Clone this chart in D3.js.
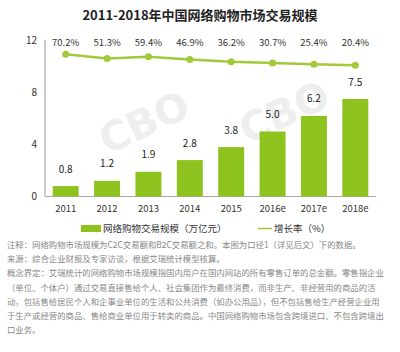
<!DOCTYPE html>
<html><head><meta charset="utf-8">
<script src="https://cdn.jsdelivr.net/npm/d3@7"></script>
<style>body{margin:0;background:#fff}svg{display:block}</style>
</head><body>
<svg id="c" width="400" height="352"></svg>
<script>
const title = "2011-2018年中国网络购物市场交易规模";
const categories = ["2011","2012","2013","2014","2015","2016e","2017e","2018e"];
const scaleValues = [0.8,1.2,1.9,2.8,3.8,5.0,6.2,7.5];
const scaleLabels = ["0.8","1.2","1.9","2.8","3.8","5.0","6.2","7.5"];
const growthValues = [70.2,51.3,59.4,46.9,36.2,30.7,25.4,20.4];
const yTicks = [0,4,8,12];
const legendNames = ["网络购物交易规模（万亿元）","增长率（%）"];
const notes = [
 "注释：网络购物市场规模为C2C交易额和B2C交易额之和。本图为口径1（详见后文）下的数据。",
 "来源：综合企业财报及专家访谈，根据艾瑞统计模型核算。",
 "概念界定：艾瑞统计的网络购物市场规模指国内用户在国内网站的所有零售订单的总金额。零售指企业",
 "（单位、个体户）通过交易直接售给个人、社会集团作为最终消费，而非生产、非经营用的商品的活",
 "动，包括售给居民个人和企事业单位的生活和公共消费（如办公用品），但不包括售给生产经营企业用",
 "于生产或经营的商品、售给商业单位用于转卖的商品。中国网络购物市场包含跨境进口、不包含跨境出",
 "口业务。"
];

const svg = d3.select("#c");
const font = "'Noto Sans CJK SC','Noto Sans',sans-serif";
const green = "#8dc21f", lineGreen = "#a2c93a";

// watermark
[[150,135],[290,125]].forEach(([x,y])=>{
  svg.append("text").attr("x",x).attr("y",y).attr("transform",`rotate(-25,${x},${y})`)
    .attr("text-anchor","middle").attr("font-family","Arial Black,DejaVu Sans,sans-serif")
    .attr("font-weight","bold").attr("font-size",40).attr("fill","#eeeeee").text("CBO");
});

svg.append("text").attr("x",200).attr("y",20).attr("text-anchor","middle")
  .attr("font-family",font).attr("font-weight","bold").attr("font-size",13).attr("fill","#222")
  .text(title);

const x = d3.scaleBand().domain(categories).range([45,376]).paddingInner(0.372).paddingOuter(0.186);
const y = d3.scaleLinear().domain([0,12]).range([196.5,40.5]);
const y2 = d3.scaleLinear().domain([20.4,70.2]).range([65.3,54.3]);

// axes
svg.append("line").attr("x1",45).attr("x2",45).attr("y1",40).attr("y2",196.5).attr("stroke","#aaa").attr("stroke-width",1.2);
svg.append("line").attr("x1",45).attr("x2",376).attr("y1",196.5).attr("y2",196.5).attr("stroke","#aaa").attr("stroke-width",1.2);

svg.append("g").selectAll("text").data(yTicks).join("text")
  .attr("x",37).attr("y",d=>y(d)).attr("dy","0.35em").attr("text-anchor","end")
  .attr("font-family",font).attr("font-size",10).attr("fill","#333").text(d=>d);

svg.append("g").selectAll("text").data(categories).join("text")
  .attr("x",d=>x(d)+x.bandwidth()/2).attr("y",209).attr("dy","0.35em").attr("text-anchor","middle")
  .attr("font-family",font).attr("font-size",9.5).attr("fill","#333").text(d=>d);

// bars
svg.append("g").selectAll("rect").data(scaleValues).join("rect")
  .attr("x",(d,i)=>x(categories[i])).attr("width",x.bandwidth())
  .attr("y",d=>y(d)).attr("height",d=>y(0)-y(d)).attr("fill",green);

svg.append("g").selectAll("text").data(scaleValues).join("text")
  .attr("x",(d,i)=>x(categories[i])+x.bandwidth()/2).attr("y",d=>y(d)-17).attr("dy","0.35em")
  .attr("text-anchor","middle").attr("font-family",font).attr("font-size",10).attr("fill","#222")
  .text((d,i)=>scaleLabels[i]);

// line
const cx = (d,i)=>x(categories[i])+x.bandwidth()/2;
svg.append("path").datum(growthValues)
  .attr("d",d3.line().x(cx).y(d=>y2(d)))
  .attr("fill","none").attr("stroke",lineGreen).attr("stroke-width",2.5);
svg.append("g").selectAll("circle").data(growthValues).join("circle")
  .attr("cx",cx).attr("cy",d=>y2(d)).attr("r",3.5).attr("fill",lineGreen);
svg.append("g").selectAll("text").data(growthValues).join("text")
  .attr("x",cx).attr("y",43).attr("dy","0.35em").attr("text-anchor","middle")
  .attr("font-family",font).attr("font-size",9.5).attr("fill","#333").text(d=>d.toFixed(1)+"%");

// legend
svg.append("rect").attr("x",81).attr("y",225).attr("width",20).attr("height",7).attr("fill",green);
svg.append("text").attr("x",103).attr("y",228.5).attr("dy","0.35em").attr("font-family",font)
  .attr("font-size",9.5).attr("fill","#333").text(legendNames[0]);
svg.append("line").attr("x1",258).attr("x2",272).attr("y1",228.5).attr("y2",228.5).attr("stroke",lineGreen).attr("stroke-width",1.5);
svg.append("text").attr("x",274).attr("y",228.5).attr("dy","0.35em").attr("font-family",font)
  .attr("font-size",9.5).attr("fill","#333").text(legendNames[1]);

// notes
svg.append("g").selectAll("text").data(notes).join("text")
  .attr("x",7).attr("y",(d,i)=>245+i*14.2).attr("dy","0.35em")
  .attr("font-family",font).attr("font-size",8.4).attr("fill","#888").text(d=>d);
</script>
</body></html>
